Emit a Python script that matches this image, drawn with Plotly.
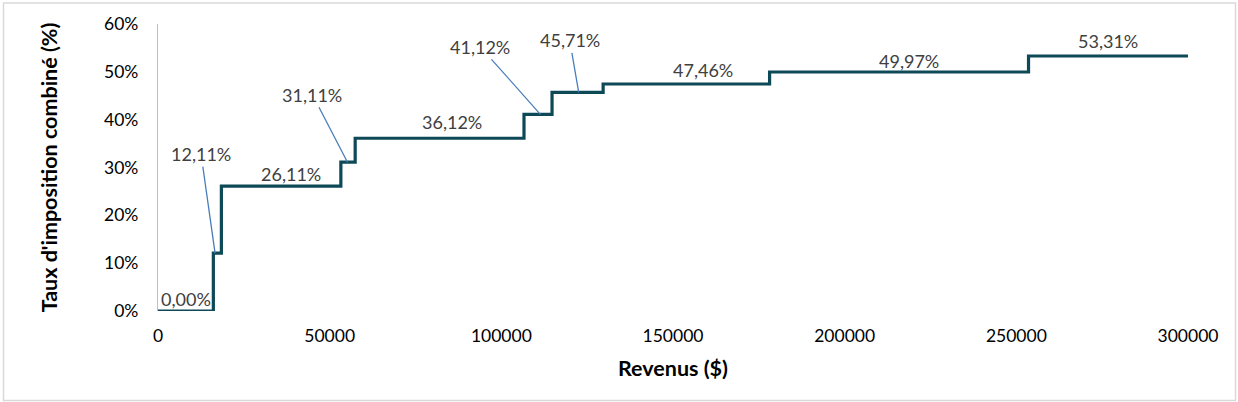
import plotly.graph_objects as go

# ---- data ----
bracket_start = [0, 16120, 18460, 53260, 57430, 106600, 114770, 129650, 178130, 253550]
x_max = 300000
rates = [0.00, 12.11, 26.11, 31.11, 36.12, 41.12, 45.71, 47.46, 49.97, 53.31]
y_ticks = [0, 10, 20, 30, 40, 50, 60]
x_ticks = [0, 50000, 100000, 150000, 200000, 250000, 300000]

# ---- layout helpers (label placement) ----
# for plain labels: (x position in data units, pixel shift above the line)
plain_labels = {0: (8080, 12), 2: (38780, 12.5), 4: (85630, 16.5),
                7: (158800, 13.7), 8: (218750, 11.4), 9: (276760, 15)}
# for leader labels: (anchor x in data units, ax px, ay px)
leader_labels = {1: (16620, -14, -99), 3: (55190, -35, -67.5),
                 5: (111370, -60, -67.5), 6: (122540, -9, -52)}

xs = bracket_start + [x_max]
ys = rates + [rates[-1]]

LINE = "#0E4957"
FONT = "Lato"
LBL = 18
TICK = 17.5
TITLE = 21.5

fig = go.Figure()
fig.add_trace(go.Scatter(x=xs, y=ys, mode="lines", line=dict(color=LINE, width=3.2, shape="hv"),
                         hoverinfo="skip", showlegend=False, cliponaxis=False))

def fmt(v):
    return f"{v:.2f}".replace(".", ",") + "%"

ann = []
for i, r in enumerate(rates):
    if i in plain_labels:
        lx, sh = plain_labels[i]
        ann.append(dict(x=lx, y=r, xref="x", yref="y", text=fmt(r), showarrow=False,
                        yshift=sh, font=dict(family=FONT, size=LBL, color="#404040")))
    else:
        lx, ax, ay = leader_labels[i]
        ann.append(dict(x=lx, y=r, xref="x", yref="y", text=fmt(r), showarrow=True,
                        ax=ax, ay=ay, arrowhead=0, arrowwidth=1.3, arrowcolor="#4A7EBB",
                        standoff=0, startstandoff=0,
                        font=dict(family=FONT, size=LBL, color="#404040")))

fig.update_layout(
    width=1238, height=402,
    margin=dict(l=158, r=50, t=24, b=91),
    paper_bgcolor="white", plot_bgcolor="white",
    annotations=ann,
    shapes=[dict(type="rect", xref="paper", yref="paper",
                 x0=(3.5 - 158) / 1030, x1=(1235.5 - 158) / 1030,
                 y0=(311 - 400.5) / 287, y1=(311 - 3) / 287,
                 line=dict(color="#D9D9D9", width=1.5))],
    xaxis=dict(range=[0, x_max], tickvals=x_ticks, ticktext=[str(v) for v in x_ticks],
               showgrid=False, zeroline=False, showline=False, ticks="", ticklabelstandoff=12,
               tickfont=dict(family=FONT, size=TICK, color="#000000"),
               title=dict(text="<b>Revenus ($)</b>", font=dict(family=FONT, size=TITLE, color="#000000"),
                          standoff=16)),
    yaxis=dict(range=[0, 60], tickvals=y_ticks, ticktext=[f"{v}%" for v in y_ticks],
               showgrid=False, zeroline=False, showline=True, linecolor="#BFBFBF", linewidth=1.3,
               ticks="", ticklabelstandoff=15,
               tickfont=dict(family=FONT, size=TICK, color="#000000"),
               title=dict(text="<b>Taux d'imposition combiné (%)</b>",
                          font=dict(family=FONT, size=TITLE, color="#000000"), standoff=40)),
)

fig.write_html("out.html", config={"displayModeBar": False},
               post_script="document.body.style.margin='0';document.body.style.overflow='hidden';")
